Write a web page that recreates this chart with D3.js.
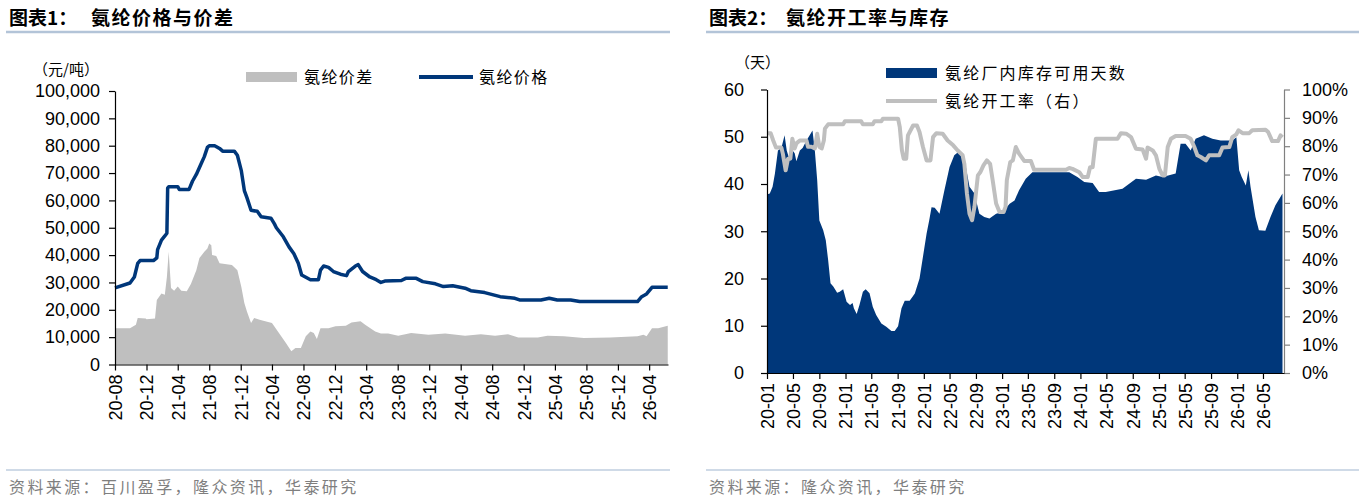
<!DOCTYPE html>
<html lang="zh">
<head>
<meta charset="UTF-8">
<title>氨纶价格与价差 / 氨纶开工率与库存</title>
<script src="https://d3js.org/d3.v7.min.js"></script>
<style>
  body { margin: 0; background: #fff; }
  svg text { font-family: "Liberation Sans", Arial, sans-serif; fill: #000; }
  svg text.cn { font-family: "Noto Sans CJK SC", sans-serif; }
</style>
</head>
<body>
<svg id="chart" width="1359" height="500"></svg>
<script>
// ---- chart 1 data: 氨纶价格 (line) and 氨纶价差 (area), 元/吨 ----
const priceSeries = [
  ["2020-08-01",28000],["2020-09-28",29800],["2020-10-15",32000],["2020-10-28",37000],
  ["2020-11-06",38000],["2020-12-28",38000],["2021-01-10",39000],["2021-01-13",42000],
  ["2021-01-28",45500],["2021-02-10",47000],["2021-02-18",48000],["2021-02-21",64500],
  ["2021-02-25",65000],["2021-04-01",65000],["2021-04-07",64000],["2021-05-15",64000],
  ["2021-05-28",67000],["2021-06-12",69500],["2021-07-01",73500],["2021-07-13",76000],
  ["2021-07-25",79400],["2021-08-01",80000],["2021-08-22",80000],["2021-09-10",79000],
  ["2021-09-22",78000],["2021-11-06",78000],["2021-11-18",76500],["2021-12-03",71000],
  ["2021-12-15",63600],["2021-12-25",61000],["2022-01-10",56400],["2022-02-03",56000],
  ["2022-02-18",54000],["2022-03-28",53500],["2022-04-10",51500],["2022-04-18",50000],
  ["2022-05-15",46700],["2022-06-06",43000],["2022-06-25",40500],["2022-07-12",37000],
  ["2022-07-25",32700],["2022-08-28",31000],["2022-09-28",31000],["2022-10-06",34500],
  ["2022-10-18",36000],["2022-11-06",35500],["2022-11-25",34000],["2022-12-22",33000],
  ["2023-01-15",32500],["2023-01-22",34000],["2023-02-18",36000],["2023-03-01",36500],
  ["2023-03-18",34000],["2023-04-15",32000],["2023-05-10",31000],["2023-05-28",30000],
  ["2023-06-12",30500],["2023-08-15",30700],["2023-09-01",31500],["2023-10-12",31500],
  ["2023-11-06",30300],["2023-12-25",29500],["2024-01-25",28500],["2024-03-01",28800],
  ["2024-04-18",27900],["2024-05-10",27000],["2024-07-03",26300],["2024-09-01",24800],
  ["2024-10-28",24200],["2024-11-15",23600],["2025-02-06",23600],["2025-03-10",24200],
  ["2025-04-10",23600],["2025-06-01",23600],["2025-07-06",23000],["2026-02-15",23000],
  ["2026-03-03",24800],["2026-03-22",25800],["2026-04-12",28200],["2026-06-12",28200]
];

const spreadSeries = [
  ["2020-08-01",13300],["2020-09-28",13300],["2020-10-21",14500],["2020-10-28",17000],
  ["2020-11-28",16800],["2020-12-01",16500],["2021-01-03",16800],["2021-01-10",23600],
  ["2021-01-28",26000],["2021-02-10",25500],["2021-02-18",32000],["2021-02-25",41200],
  ["2021-03-06",28000],["2021-03-18",27000],["2021-04-01",28500],["2021-04-15",27000],
  ["2021-05-06",26800],["2021-05-22",29400],["2021-06-12",34500],["2021-06-24",38900],
  ["2021-07-13",41200],["2021-07-25",42400],["2021-08-01",44200],["2021-08-09",43600],
  ["2021-08-12",40000],["2021-08-28",39700],["2021-09-10",37000],["2021-10-28",36400],
  ["2021-11-18",34500],["2021-12-03",28500],["2021-12-15",22500],["2021-12-25",19400],
  ["2022-01-10",15200],["2022-01-22",17000],["2022-02-12",16400],["2022-03-06",15800],
  ["2022-04-01",15200],["2022-04-28",11500],["2022-05-25",7900],["2022-06-15",4800],
  ["2022-07-01",6000],["2022-07-22",6000],["2022-08-10",10300],["2022-08-28",12100],
  ["2022-09-10",11500],["2022-09-22",9300],["2022-10-06",13300],["2022-11-06",13300],
  ["2022-12-03",14000],["2023-01-12",14200],["2023-02-03",15400],["2023-03-10",15800],
  ["2023-03-28",14500],["2023-05-06",12100],["2023-05-28",11300],["2023-06-25",11300],
  ["2023-08-03",10500],["2023-09-22",11500],["2023-11-28",10900],["2024-02-01",11300],
  ["2024-04-18",10500],["2024-06-18",11100],["2024-08-12",10500],["2024-10-01",11100],
  ["2024-11-10",9900],["2025-01-25",9900],["2025-03-03",10500],["2025-05-06",10300],
  ["2025-07-22",9700],["2025-11-01",9900],["2026-02-15",10300],["2026-03-10",10900],
  ["2026-03-22",10300],["2026-04-12",13300],["2026-05-06",13300],["2026-06-12",14200]
];

const priceYTicks = [0,10000,20000,30000,40000,50000,60000,70000,80000,90000,100000];
const priceXTicks = ["2020-08","2020-12","2021-04","2021-08","2021-12","2022-04","2022-08",
  "2022-12","2023-04","2023-08","2023-12","2024-04","2024-08","2024-12","2025-04",
  "2025-08","2025-12","2026-04"];

// ---- chart 2 data: 氨纶厂内库存可用天数 (area, 天) and 氨纶开工率 (line, 右轴 %) ----
const inventorySeries = [
  ["2020-01-01",37.8],["2020-01-14",38],["2020-01-27",39.4],["2020-02-07",42.2],
  ["2020-02-21",47.1],["2020-03-08",47.6],["2020-03-23",50.3],["2020-04-02",47.1],
  ["2020-04-16",45],["2020-04-24",47.4],["2020-05-09",46.5],["2020-05-17",44.8],
  ["2020-06-02",47.1],["2020-06-15",47.6],["2020-07-03",49.2],["2020-07-18",50.3],
  ["2020-07-31",51.3],["2020-08-11",47.1],["2020-08-22",40.8],["2020-09-01",32.3],
  ["2020-09-19",30.2],["2020-10-01",28.1],["2020-10-12",23.9],["2020-10-23",19],
  ["2020-11-05",18.3],["2020-11-23",17],["2020-12-05",17.2],["2020-12-21",17.7],
  ["2021-01-06",15.1],["2021-01-22",14.4],["2021-02-03",14.8],["2021-02-09",13.7],
  ["2021-02-22",12.5],["2021-03-07",14.4],["2021-03-23",17.2],["2021-04-05",17.7],
  ["2021-04-23",16.9],["2021-05-08",14],["2021-05-24",12.3],["2021-06-17",10.5],
  ["2021-07-10",9.8],["2021-08-03",8.9],["2021-08-18",8.9],["2021-09-03",9.9],
  ["2021-09-19",13.7],["2021-10-04",15.3],["2021-10-27",15.3],["2021-11-20",16.8],
  ["2021-12-12",20],["2021-12-28",24.6],["2022-01-14",29.5],["2022-01-26",32.3],
  ["2022-02-06",35.1],["2022-02-21",35],["2022-03-15",33.7],["2022-04-07",38.7],
  ["2022-05-01",43.6],["2022-05-23",46.1],["2022-06-12",46.8],["2022-07-01",46.5],
  ["2022-07-16",43.6],["2022-08-02",39.4],["2022-08-25",38],["2022-09-17",33.7],
  ["2022-10-10",33],["2022-11-03",32.7],["2022-12-04",33.7],["2023-01-04",34.1],
  ["2023-02-05",35.8],["2023-02-28",36.5],["2023-03-21",38.7],["2023-04-21",41.1],
  ["2023-05-22",42.5],["2023-11-10",42.5],["2023-12-18",41.5],["2024-01-19",40.4],
  ["2024-02-27",40.2],["2024-03-28",38.3],["2024-04-28",38.3],["2024-07-15",39],
  ["2024-09-16",41.1],["2024-11-02",40.9],["2024-12-18",41.8],["2025-01-18",41.5],
  ["2025-03-20",42.2],["2025-04-12",48.5],["2025-05-05",48.5],["2025-05-29",47.1],
  ["2025-06-21",49.6],["2025-07-30",50.3],["2025-09-07",49.6],["2025-10-16",49.2],
  ["2025-12-09",49.2],["2025-12-28",49.9],["2026-01-10",42.9],["2026-01-22",41.5],
  ["2026-02-10",39.7],["2026-02-22",42.9],["2026-03-04",39.4],["2026-03-27",33],
  ["2026-04-12",30.2],["2026-05-12",30.1],["2026-06-05",33],["2026-06-28",35.5],
  ["2026-07-31",38]
];

const rateSeries = [
  ["2020-01-01",84.6],["2020-01-18",84.6],["2020-01-30",82],["2020-02-12",79.5],
  ["2020-03-08",79.5],["2020-03-15",77.3],["2020-03-28",71.5],["2020-04-08",75.6],
  ["2020-04-19",75.6],["2020-04-28",82.6],["2020-05-09",79.2],["2020-05-17",81],
  ["2020-06-02",82],["2020-07-03",82],["2020-07-10",79.8],["2020-07-26",79.8],
  ["2020-08-11",79.2],["2020-08-22",84.4],["2020-09-01",79.8],["2020-09-12",79.2],
  ["2020-09-22",82],["2020-09-27",86.2],["2020-10-12",87.7],["2020-12-21",87.7],
  ["2020-12-29",88.8],["2021-03-15",88.8],["2021-03-23",87.7],["2021-05-08",87.7],
  ["2021-05-16",88.8],["2021-06-17",88.8],["2021-06-24",89.7],["2021-09-03",89.7],
  ["2021-09-11",86.7],["2021-09-21",78.5],["2021-09-29",75.6],["2021-10-11",75.6],
  ["2021-10-19",83.8],["2021-11-12",87.3],["2021-11-30",87.3],["2021-12-12",85],
  ["2021-12-28",79.7],["2022-01-14",75],["2022-02-01",75],["2022-02-13",83.2],
  ["2022-02-28",84.6],["2022-03-30",84.4],["2022-04-22",82],["2022-05-18",80.3],
  ["2022-06-08",78.5],["2022-07-01",76.8],["2022-07-09",73.8],["2022-07-21",63.3],
  ["2022-08-02",56.2],["2022-08-14",53.9],["2022-08-25",58.6],["2022-09-10",69.7],
  ["2022-09-21",70.8],["2022-10-06",73.2],["2022-10-22",75],["2022-11-06",73.8],
  ["2022-11-18",68],["2022-12-04",59.8],["2022-12-20",56.8],["2023-01-08",56.8],
  ["2023-01-17",58.6],["2023-01-23",68],["2023-02-08",74.4],["2023-02-20",75],
  ["2023-03-06",79.7],["2023-03-21",77.4],["2023-04-14",74.8],["2023-05-15",74.8],
  ["2023-05-30",71.7],["2023-10-26",71.7],["2023-11-10",72.3],["2023-11-25",72],
  ["2023-12-27",70.8],["2024-01-12",69.1],["2024-02-04",69.1],["2024-02-15",72.6],
  ["2024-02-27",72.6],["2024-03-13",82.6],["2024-06-22",82.6],["2024-07-08",84.6],
  ["2024-08-01",84.4],["2024-08-24",83.2],["2024-09-16",79.1],["2024-10-17",78.8],
  ["2024-11-02",75.6],["2024-11-09",79.5],["2024-12-03",78.5],["2024-12-18",76.8],
  ["2025-01-03",72],["2025-01-18",69.7],["2025-01-29",69.7],["2025-02-11",79.7],
  ["2025-02-26",82.6],["2025-03-20",83.6],["2025-05-05",83.6],["2025-05-29",82.6],
  ["2025-06-14",79.9],["2025-06-29",76.8],["2025-07-15",76.2],["2025-08-08",75],
  ["2025-08-23",76.8],["2025-10-09",76.8],["2025-10-24",79.5],["2025-11-25",79.7],
  ["2025-12-09",83.2],["2025-12-28",84.2],["2026-01-07",85.6],["2026-01-26",84.6],
  ["2026-02-26",84.6],["2026-03-12",85.6],["2026-05-13",85.8],["2026-05-25",85],
  ["2026-06-13",81.8],["2026-07-10",81.8],["2026-07-22",83.8],["2026-07-31",83.2]
];

const daysYTicks = [0,10,20,30,40,50,60];
const rateYTicks = [0,10,20,30,40,50,60,70,80,90,100];
const stockXTicks = ["2020-01","2020-05","2020-09","2021-01","2021-05","2021-09","2022-01",
  "2022-05","2022-09","2023-01","2023-05","2023-09","2024-01","2024-05","2024-09",
  "2025-01","2025-05","2025-09","2026-01","2026-05"];

// ---- common ----
const NAVY = "#00377a";
const GREY = "#bfbfbf";
const parseDay = d3.timeParse("%Y-%m-%d");
const parseMonth = d3.timeParse("%Y-%m");
const fmtTick = d3.timeFormat("%y-%m");

const svg = d3.select("#chart");

function header(x0, x1, label, title, titleX) {
  svg.append("text").attr("class", "cn")
    .attr("x", x0 + 3).attr("y", 25)
    .attr("font-size", 19).attr("font-weight", 700)
    .text(label);
  svg.append("text").attr("class", "cn")
    .attr("x", titleX).attr("y", 25)
    .attr("font-size", 19).attr("font-weight", 700)
    .attr("letter-spacing", 1.5)
    .text(title);
  svg.append("line")
    .attr("x1", x0).attr("x2", x1).attr("y1", 32).attr("y2", 32)
    .attr("stroke", "#b3c4d8").attr("stroke-width", 2.5);
}

function footer(x0, x1, source) {
  svg.append("line")
    .attr("x1", x0).attr("x2", x1).attr("y1", 470).attr("y2", 470)
    .attr("stroke", "#9fb5cf").attr("stroke-width", 1.2);
  svg.append("text").attr("class", "cn")
    .attr("x", x0 + 3).attr("y", 493)
    .attr("font-size", 16).attr("letter-spacing", 2.4)
    .style("fill", "#7f7f7f")
    .text(source);
}

function rotateXLabels(g) {
  g.selectAll(".tick text")
    .attr("transform", "rotate(-90)")
    .attr("x", -10).attr("y", 0).attr("dy", "0.36em")
    .attr("text-anchor", "end");
}

function styleAxis(g, colour) {
  g.select(".domain").attr("stroke", colour).attr("stroke-width", 1.2);
  g.selectAll(".tick line").attr("stroke", colour).attr("stroke-width", 1.2);
  g.selectAll(".tick text").attr("font-size", 18).attr("fill", "#000")
    .style("font-family", "'Liberation Sans', Arial, sans-serif");
}

// ================= chart 1 =================
header(6, 670, "图表1：", "氨纶价格与价差", 91);
footer(6, 670, "资料来源：百川盈孚，隆众资讯，华泰研究");

const x1 = d3.scaleTime()
  .domain([parseDay("2020-08-01"), parseDay("2026-06-13")])
  .range([115, 668]);
const y1 = d3.scaleLinear().domain([0, 100000]).range([364.5, 91]);

svg.append("path")
  .datum(spreadSeries)
  .attr("fill", GREY)
  .attr("d", d3.area()
    .x(d => x1(parseDay(d[0])))
    .y0(y1(0))
    .y1(d => y1(d[1])));

svg.append("path")
  .datum(priceSeries)
  .attr("fill", "none")
  .attr("stroke", NAVY)
  .attr("stroke-width", 3.5)
  .attr("stroke-linejoin", "round")
  .attr("d", d3.line()
    .x(d => x1(parseDay(d[0])))
    .y(d => y1(d[1])));

const gy1 = svg.append("g")
  .attr("transform", "translate(115,0)")
  .call(d3.axisLeft(y1).tickValues(priceYTicks).tickFormat(d3.format(","))
    .tickSize(6).tickSizeOuter(0).tickPadding(9));
styleAxis(gy1, "#000");

const gx1 = svg.append("g")
  .attr("transform", `translate(0,${y1(0)})`)
  .call(d3.axisBottom(x1).tickValues(priceXTicks.map(parseMonth)).tickFormat(fmtTick)
    .tickSize(6).tickSizeOuter(0));
styleAxis(gx1, "#000");
rotateXLabels(gx1);

svg.append("text").attr("class", "cn")
  .attr("x", 33).attr("y", 75).attr("font-size", 15)
  .text("（元/吨）");

// legend 1
svg.append("rect").attr("x", 246).attr("y", 72).attr("width", 51).attr("height", 10)
  .attr("fill", GREY);
svg.append("text").attr("class", "cn")
  .attr("x", 304).attr("y", 83).attr("font-size", 16).attr("letter-spacing", 1.4)
  .text("氨纶价差");
svg.append("line").attr("x1", 419).attr("x2", 473).attr("y1", 77).attr("y2", 77)
  .attr("stroke", NAVY).attr("stroke-width", 4);
svg.append("text").attr("class", "cn")
  .attr("x", 479).attr("y", 83).attr("font-size", 16).attr("letter-spacing", 1.4)
  .text("氨纶价格");

// ================= chart 2 =================
header(706, 1359, "图表2：", "氨纶开工率与库存", 786);
footer(706, 1359, "资料来源：隆众资讯，华泰研究");

const x2 = d3.scaleTime()
  .domain([parseDay("2020-01-01"), parseDay("2026-08-07")])
  .range([767, 1284]);
const y2 = d3.scaleLinear().domain([0, 60]).range([373, 89.5]);
const y2r = d3.scaleLinear().domain([0, 100]).range([373, 89.5]);

svg.append("path")
  .datum(inventorySeries)
  .attr("fill", NAVY)
  .attr("d", d3.area()
    .x(d => x2(parseDay(d[0])))
    .y0(y2(0))
    .y1(d => y2(d[1])));

svg.append("path")
  .datum(rateSeries)
  .attr("fill", "none")
  .attr("stroke", GREY)
  .attr("stroke-width", 4)
  .attr("stroke-linejoin", "round")
  .attr("d", d3.line()
    .x(d => x2(parseDay(d[0])))
    .y(d => y2r(d[1])));

const gy2 = svg.append("g")
  .attr("transform", "translate(767,0)")
  .call(d3.axisLeft(y2).tickValues(daysYTicks)
    .tickSize(6).tickSizeOuter(0).tickPadding(17));
styleAxis(gy2, "#000");

const gy2r = svg.append("g")
  .attr("transform", "translate(1284,0)")
  .call(d3.axisRight(y2r).tickValues(rateYTicks).tickFormat(d => d + "%")
    .tickSize(6).tickSizeOuter(0).tickPadding(12));
styleAxis(gy2r, "#808080");

const gx2 = svg.append("g")
  .attr("transform", `translate(0,${y2(0)})`)
  .call(d3.axisBottom(x2).tickValues(stockXTicks.map(parseMonth)).tickFormat(fmtTick)
    .tickSize(6).tickSizeOuter(0));
styleAxis(gx2, "#000");
rotateXLabels(gx2);

svg.append("text").attr("class", "cn")
  .attr("x", 735).attr("y", 68).attr("font-size", 15)
  .text("（天）");

// legend 2
svg.append("rect").attr("x", 886).attr("y", 68).attr("width", 51).attr("height", 10)
  .attr("fill", NAVY);
svg.append("text").attr("class", "cn")
  .attr("x", 945).attr("y", 79).attr("font-size", 16).attr("letter-spacing", 2.2)
  .text("氨纶厂内库存可用天数");
svg.append("line").attr("x1", 886).attr("x2", 937).attr("y1", 101).attr("y2", 101)
  .attr("stroke", GREY).attr("stroke-width", 4);
svg.append("text").attr("class", "cn")
  .attr("x", 945).attr("y", 107).attr("font-size", 16).attr("letter-spacing", 2.2)
  .text("氨纶开工率（右）");
</script>
</body>
</html>
